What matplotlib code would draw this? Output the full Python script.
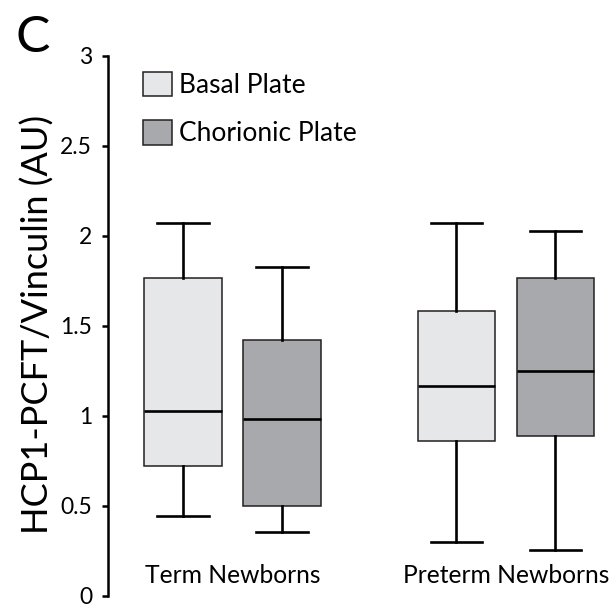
import matplotlib
matplotlib.use("Agg")
import matplotlib.pyplot as plt
from matplotlib.patches import Patch

plt.rcParams['font.family'] = ['Lato', 'DejaVu Sans']

# ---- data ----
groups = ["Term Newborns", "Preterm Newborns"]
series = ["Basal Plate", "Chorionic Plate"]
whislo = [0.445, 0.355, 0.297, 0.254]
q1 = [0.722, 0.500, 0.860, 0.885]
med = [1.024, 0.980, 1.163, 1.246]
q3 = [1.763, 1.418, 1.580, 1.765]
whishi = [2.072, 1.826, 2.072, 2.026]
yticks = [0, 0.5, 1, 1.5, 2, 2.5, 3]
ytick_labels = ["0", "0.5", "1", "1.5", "2", "2.5", "3"]
ylabel = "HCP1-PCFT/Vinculin (AU)"
panel = "C"

# ---- style / layout ----
colors = ["#E6E7E8", "#A7A9AC", "#E6E7E8", "#A7A9AC"]
legend_colors = ["#E6E7E8", "#A7A9AC"]
positions = [1, 2, 3.76, 4.76]
group_centers = [1.5, 4.26]

W, H = 610, 605
fig = plt.figure(figsize=(W / 100, H / 100), dpi=100)
ax_left, ax_bottom_px, ax_top_px = 108, 595.7, 55.7
ax = fig.add_axes([ax_left / W, (H - ax_bottom_px) / H, (W - ax_left) / W,
                   (ax_bottom_px - ax_top_px) / H])

stats = []
for i in range(4):
    stats.append(dict(whislo=whislo[i], q1=q1[i], med=med[i], q3=q3[i],
                      whishi=whishi[i], fliers=[]))

bp = ax.bxp(stats, positions=positions, widths=0.78, capwidths=0.52,
            patch_artist=True, showfliers=False,
            boxprops=dict(linewidth=1.1, edgecolor="#231F20"),
            medianprops=dict(color="#000000", linewidth=1.9),
            whiskerprops=dict(color="#000000", linewidth=1.9),
            capprops=dict(color="#000000", linewidth=1.9))
for patch, c in zip(bp["boxes"], colors):
    patch.set_facecolor(c)

ax.set_xlim(1 - 75 / 99, 1 + (W - 183) / 99)
ax.set_ylim(0, 3)
ax.set_yticks(yticks)
ax.set_yticklabels(ytick_labels)
ax.set_xticks([])
for s in ["top", "right", "bottom"]:
    ax.spines[s].set_visible(False)
ax.spines["left"].set_linewidth(1.8)
ax.tick_params(axis="y", length=4.5, width=1.8, pad=7, labelsize=16.5,
               colors="#000000")
ax.patch.set_alpha(0)

for gc, g in zip(group_centers, groups):
    ax.text(gc, 0.11, g, ha="center", va="center", fontsize=17.7)

handles = [Patch(facecolor=c, edgecolor="#231F20", linewidth=1.1)
           for c in legend_colors]
leg = ax.legend(handles, series, loc="upper left",
                bbox_to_anchor=(143 / W, 1 - 72 / H),
                bbox_transform=fig.transFigure, frameon=False,
                fontsize=19, handlelength=1.08, handleheight=1.05,
                handletextpad=0.3, labelspacing=0.83, borderpad=0,
                borderaxespad=0)

fig.text(38 / W, 1 - 324 / H, ylabel, rotation=90, ha="center",
         va="center", fontsize=26)
fig.text(15 / W, 1 - 52 / H, panel, ha="left", va="baseline", fontsize=37)

fig.savefig("out.png", dpi=100)
